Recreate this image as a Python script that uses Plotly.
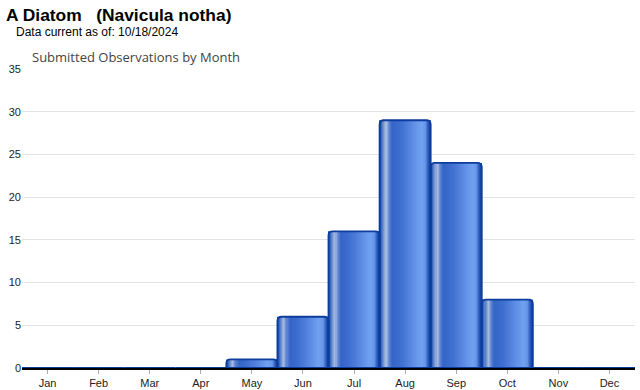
import numpy as np
import plotly.graph_objects as go

months = ["Jan", "Feb", "Mar", "Apr", "May", "Jun", "Jul", "Aug", "Sep", "Oct", "Nov", "Dec"]
observations = [0, 0, 0, 0, 1, 6, 16, 29, 24, 8, 0, 0]
y_ticks = [0, 5, 10, 15, 20, 25, 30, 35]

title_text = "<b>A Diatom   (Navicula notha)</b>"
subtitle_text = "Data current as of: 10/18/2024"
chart_title = "Submitted Observations by Month"

# horizontal "cylinder" gradient across each bar (position fraction, rgb)
grad_pos = [0.00, 0.04, 0.10, 0.14, 0.18, 0.25, 0.40, 0.65, 0.82, 0.90, 0.96, 1.00]
grad_rgb = [
    (20, 66, 165), (45, 95, 192), (125, 155, 212), (170, 189, 224), (105, 140, 214),
    (52, 100, 198), (60, 108, 205), (90, 139, 227), (112, 160, 240), (104, 150, 234),
    (44, 90, 186), (20, 66, 165),
]

ML, MR, MT, MB = 22, 5, 69, 22
W, H = 640, 390

N = 48
fig = go.Figure()
for i in range(N):
    f = (i + 0.5) / N
    r, g, b = (int(round(np.interp(f, grad_pos, [c[k] for c in grad_rgb]))) for k in range(3))
    fig.add_trace(go.Bar(
        x=months, y=observations,
        width=1.0 / N + 0.004, offset=-0.5 + i / N,
        marker=dict(color=f"rgb({r},{g},{b})", line=dict(width=0)),
        hoverinfo="skip", showlegend=False,
    ))

fig.add_trace(go.Bar(
    x=months, y=observations, width=1.0, offset=-0.5,
    marker=dict(color="rgba(0,0,0,0)", line=dict(color="#0c3c9c", width=1.8),
                cornerradius=4),
    showlegend=False,
))

pw, ph = W - ML - MR, H - MT - MB


def px2paper(px, py):
    return (px - ML) / pw, (H - py - MB) / ph


annos = []
for text, px, py, size, color, fam in [
    (title_text, 4, 15, 17.4, "#000", "Liberation Sans, Arial, sans-serif"),
    (subtitle_text, 14, 32, 12, "#000", "Liberation Sans, Arial, sans-serif"),
    (chart_title, 30, 57, 13, "#444", "Open Sans, sans-serif"),
]:
    ax, ay = px2paper(px, py)
    annos.append(dict(text=text, x=ax, y=ay, xref="paper", yref="paper",
                      showarrow=False, xanchor="left", yanchor="middle",
                      font=dict(size=size, color=color, family=fam)))

fig.update_layout(
    width=W, height=H,
    barmode="overlay",
    margin=dict(l=ML, r=MR, t=MT, b=MB, autoexpand=False),
    paper_bgcolor="white", plot_bgcolor="white",
    font=dict(family="Liberation Sans, Arial, sans-serif", size=11, color="#222"),
    showlegend=False,
    annotations=annos,
    xaxis=dict(
        type="category", range=[-0.5, 11.5], automargin=False,
        showline=True, linecolor="#000", linewidth=2,
        ticks="outside", ticklen=4, tickcolor="#aaa", tickwidth=1,
        showgrid=False, tickfont=dict(size=11, color="#222"),
    ),
    yaxis=dict(
        range=[0, 35], tickvals=y_ticks, showgrid=True, gridcolor="#e3e3e3", gridwidth=1,
        zeroline=False, ticks="", automargin=False, tickfont=dict(size=11, color="#222"),
    ),
)

fig.write_html("out.html", config={"displayModeBar": False},
               post_script="document.body.style.margin='0';document.body.style.padding='0';")
